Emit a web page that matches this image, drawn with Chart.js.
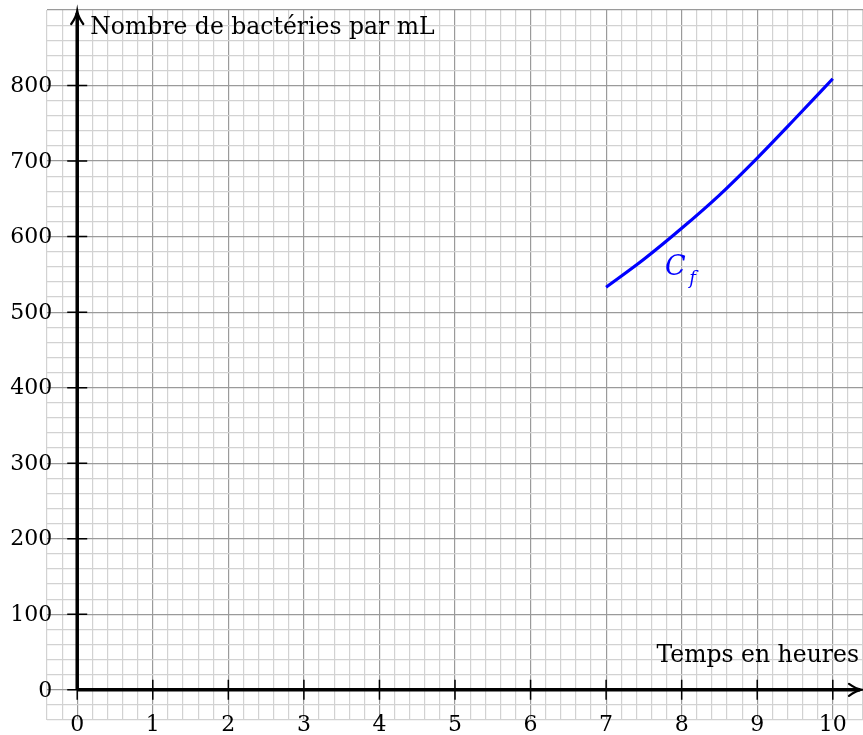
<!DOCTYPE html>
<html>
<head>
<meta charset="utf-8">
<script src="https://cdn.jsdelivr.net/npm/chart.js@4"></script>
<style>
  body { margin: 0; background: #fff; }
</style>
</head>
<body>
<canvas id="chart" width="863" height="735"></canvas>
<script>
"use strict"

var heures = [7, 7.5, 8, 8.5, 9, 9.5, 10];
var bacteries = [533, 570, 611, 655, 704, 756, 809];

// graduations
var xTicks = [0, 1, 2, 3, 4, 5, 6, 7, 8, 9, 10];
var yTicks = [0, 100, 200, 300, 400, 500, 600, 700, 800];

var yTitle = 'Nombre de bactéries par mL';
var xTitle = 'Temps en heures';
var curveName = 'C';
var curveSub = 'f';

var FONT_TICK = "22px 'DejaVu Serif'";
var FONT_TITLE = "23.5px 'DejaVu Serif'";

function isMajor(v, step) {
    var r = v / step;
    return Math.abs(r - Math.round(r)) < 1e-6;
}

var repere = {
    id: 'repere',
    beforeDatasetsDraw: function (chart) {
        var ctx = chart.ctx;
        var xs = chart.scales.x;
        var ys = chart.scales.y;
        var x0 = xs.getPixelForValue(0);
        var y0 = ys.getPixelForValue(0);
        var right = chart.width - 1;
        var top = chart.chartArea.top + 1;

        ctx.save();
        ctx.strokeStyle = '#000';
        ctx.fillStyle = '#000';

        // petits traits de graduation
        ctx.lineWidth = 1.5;
        ctx.beginPath();
        for (var i = 0; i < yTicks.length; i++) {
            var py = ys.getPixelForValue(yTicks[i]);
            ctx.moveTo(x0 - 10, py);
            ctx.lineTo(yTicks[i] == 0 ? x0 : x0 + 10, py);
        }
        for (var k = 0; k < xTicks.length; k++) {
            var px = xs.getPixelForValue(xTicks[k]);
            ctx.moveTo(px, y0 + 10);
            ctx.lineTo(px, xTicks[k] == 0 ? y0 : y0 - 10);
        }
        ctx.stroke();

        // axes
        ctx.lineWidth = 3.5;
        ctx.beginPath();
        ctx.moveTo(x0, y0);
        ctx.lineTo(x0, top + 2);
        ctx.moveTo(x0, y0);
        ctx.lineTo(right - 2, y0);
        ctx.stroke();

        // flèches (style LaTeX)
        ctx.lineWidth = 2.2;
        ctx.lineCap = 'round';
        ctx.beginPath();
        ctx.moveTo(x0 - 6, top + 13);
        ctx.quadraticCurveTo(x0 - 1, top + 6, x0, top);
        ctx.quadraticCurveTo(x0 + 1, top + 6, x0 + 6, top + 13);
        ctx.moveTo(right - 13, y0 - 6);
        ctx.quadraticCurveTo(right - 6, y0 - 1, right, y0);
        ctx.quadraticCurveTo(right - 6, y0 + 1, right - 13, y0 + 6);
        ctx.stroke();
        ctx.restore();
    },
    afterDraw: function (chart) {
        var ctx = chart.ctx;
        var xs = chart.scales.x;
        var ys = chart.scales.y;
        var x0 = xs.getPixelForValue(0);
        var y0 = ys.getPixelForValue(0);

        ctx.save();
        ctx.font = FONT_TICK;
        ctx.fillStyle = '#000';

        ctx.textAlign = 'right';
        ctx.textBaseline = 'middle';
        for (var i = 0; i < yTicks.length; i++) {
            ctx.fillText(String(yTicks[i]), x0 - 25, ys.getPixelForValue(yTicks[i]) + 1);
        }
        ctx.textAlign = 'center';
        for (var k = 0; k < xTicks.length; k++) {
            ctx.fillText(String(xTicks[k]), xs.getPixelForValue(xTicks[k]), y0 + 35);
        }

        // titres des axes
        ctx.font = FONT_TITLE;
        ctx.textAlign = 'left';
        ctx.fillText(yTitle, x0 + 13, chart.chartArea.top + 18);
        ctx.textAlign = 'right';
        ctx.fillText(xTitle, chart.width - 4, y0 - 34);

        // nom de la courbe
        ctx.fillStyle = '#0000ff';
        ctx.textAlign = 'left';
        ctx.font = "italic 27px 'DejaVu Serif'";
        ctx.fillText(curveName, xs.getPixelForValue(7.78), ys.getPixelForValue(559));
        ctx.font = "italic 18px 'DejaVu Serif'";
        ctx.fillText(curveSub, xs.getPixelForValue(8.1), ys.getPixelForValue(544));
        ctx.restore();
    }
};

var gridColor = function (step) {
    return function (c) {
        return isMajor(c.tick.value, step) ? '#9a9a9a' : '#d2d2d2';
    };
};

var config = {
    type: 'line',
    data: {
        datasets: [{
            label: 'Cf',
            data: heures.map(function (h, i) { return { x: h, y: bacteries[i] }; }),
            borderColor: '#0000ff',
            borderWidth: 3.2,
            pointRadius: 0,
            cubicInterpolationMode: 'monotone',
            fill: false
        }]
    },
    options: {
        responsive: false,
        animation: false,
        layout: { padding: { left: 47, top: 10, right: 0, bottom: 15 } },
        plugins: {
            legend: { display: false },
            tooltip: { enabled: false },
            title: { display: false }
        },
        scales: {
            x: {
                type: 'linear',
                min: -0.4,
                max: 10.4,
                ticks: { display: false, stepSize: 0.2, autoSkip: false, maxTicksLimit: 100 },
                border: { display: false },
                grid: { drawTicks: false, color: gridColor(1), lineWidth: 1.2 }
            },
            y: {
                type: 'linear',
                min: -40,
                max: 900,
                ticks: { display: false, stepSize: 20, autoSkip: false, maxTicksLimit: 100 },
                border: { display: false },
                grid: { drawTicks: false, color: gridColor(100), lineWidth: 1.2 }
            }
        }
    },
    plugins: [repere]
};

var myChart = new Chart(document.getElementById('chart').getContext('2d'), config);
</script>
</body>
</html>
